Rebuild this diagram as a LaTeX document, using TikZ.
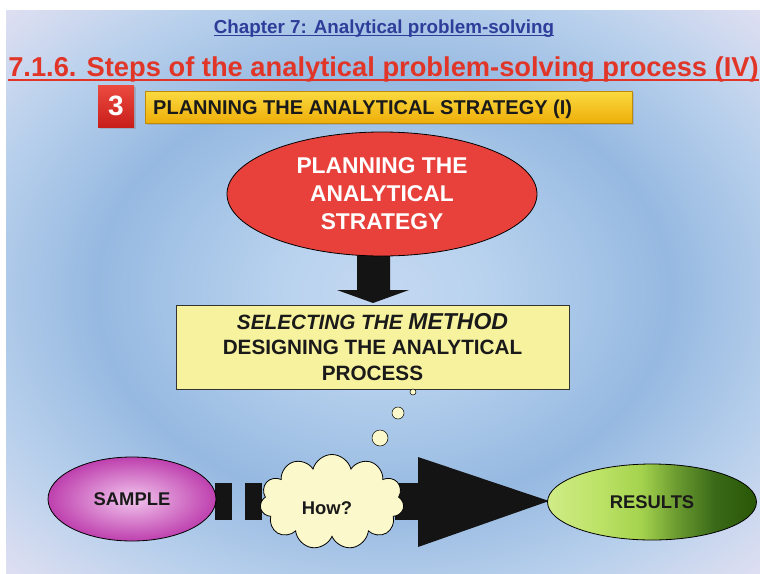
\documentclass[tikz,border=0pt]{standalone}
\usepackage{fontspec}
\setmainfont{Liberation Sans}
\usetikzlibrary{shapes.geometric,shapes.symbols,shadows,calc}
\definecolor{bgA}{HTML}{C4D8F2}
\definecolor{bgB}{HTML}{B8D2EE}
\definecolor{bgC}{HTML}{96B9E1}
\definecolor{bgD}{HTML}{B8D0EC}
\definecolor{bgE}{HTML}{D6DCF0}
\definecolor{bgF}{HTML}{EEE4F6}
\definecolor{bgG}{HTML}{F6E8F6}
\definecolor{resA}{HTML}{D0EC88}
\definecolor{resB}{HTML}{BCE266}
\definecolor{resC}{HTML}{A4D24E}
\definecolor{resD}{HTML}{6A9A30}
\definecolor{resE}{HTML}{3A6A18}
\definecolor{resF}{HTML}{285606}
\definecolor{chapblue}{HTML}{2E3D9A}
\definecolor{titlered}{HTML}{E03527}
\definecolor{sqtop}{HTML}{EC4A40}
\definecolor{sqbot}{HTML}{C81E1A}
\definecolor{bartop}{HTML}{FADA40}
\definecolor{barmid}{HTML}{F7C600}
\definecolor{barbot}{HTML}{EEAE0A}
\definecolor{planred}{HTML}{E8413C}
\definecolor{boxyellow}{HTML}{F7F29E}
\definecolor{bubble}{HTML}{FBF8CC}
\definecolor{arrowblack}{HTML}{141414}
\definecolor{samplein}{HTML}{F2C6EE}
\definecolor{sampleout}{HTML}{BE40AE}
\definecolor{darktext}{HTML}{1A1A1A}
\pgfdeclareradialshading{bgshade}{\pgfpoint{0bp}{0bp}}{color(0bp)=(bgA); color(7bp)=(bgB); color(19bp)=(bgC); color(27.5bp)=(bgD); color(33.5bp)=(bgE); color(39bp)=(bgF); color(46bp)=(bgG); color(50bp)=(bgG)}
\pgfdeclarehorizontalshading{resshade}{100bp}{color(0bp)=(resA); color(25bp)=(resA); color(37.5bp)=(resB); color(47.5bp)=(resC); color(56bp)=(resD); color(65bp)=(resE); color(75bp)=(resF); color(100bp)=(resF)}
\tikzset{
  bubblestyle/.style={circle, draw=black, line width=0.5pt, fill=bubble, inner sep=0pt},
  ovalstyle/.style={ellipse, draw=black, line width=0.8pt, inner sep=0pt, text=darktext, font=\fontsize{18.4}{22}\selectfont\bfseries},
  blk/.style={fill=arrowblack}
}
\begin{document}
\begin{tikzpicture}[x=1pt,y=-1pt]
\useasboundingbox (0,0) rectangle (760,573);
\fill[white] (0,0) rectangle (760,573);
\shade[shading=bgshade] (6,10) rectangle (760,573);

% headings
\node[anchor=base, inner sep=0pt, text=chapblue, font=\fontsize{18.8}{22}\selectfont\bfseries] (chap) at (384,33) {Chapter 7: Analytical problem-solving};
\draw[chapblue, line width=1.3pt] ([yshift=-2.5pt]chap.base west) -- ([yshift=-2.5pt]chap.base east);
\node[anchor=base, inner sep=0pt, text=titlered, font=\fontsize{27.3}{32}\selectfont\bfseries] (title) at (383.5,76) {7.1.6. Steps of the analytical problem-solving process (IV)};
\draw[titlered, line width=2pt] ([yshift=-4pt]title.base west) -- ([yshift=-4pt]title.base east);

% step number and bar
\node[minimum width=36pt, minimum height=42pt, inner sep=0pt, top color=sqtop, bottom color=sqbot,
      drop shadow={shadow xshift=2pt, shadow yshift=-2pt, opacity=0.35},
      text=white, font=\fontsize{28}{30}\selectfont\bfseries] (three) at (116,106) {3};
\node[minimum width=487pt, minimum height=32pt, inner sep=0pt, top color=bartop, middle color=barmid, bottom color=barbot,
      draw=barbot!80!black, line width=0.4pt,
      drop shadow={shadow xshift=1.5pt, shadow yshift=-2pt, opacity=0.3}] (bar) at (388.5,107) {};
\node[anchor=base west, inner sep=0pt, text=darktext, font=\fontsize{20}{24}\selectfont\bfseries] (bartext) at (153,114) {PLANNING THE ANALYTICAL STRATEGY (I)};

% down arrow
\coordinate (dtip) at (373,303);
\fill[blk] (357,240) -- (390,240) -- (390,290) -- (409,290) -- (dtip) -- (337,290) -- (357,290) -- cycle;

% planning ellipse
\node[ellipse, draw=black, line width=0.8pt, fill=planred, minimum width=310pt, minimum height=124pt, inner sep=0pt,
      align=center, text=white, font=\fontsize{22.8}{28}\selectfont\bfseries] (plan) at (382,194) {PLANNING THE\\ANALYTICAL\\STRATEGY};

% method box
\node[draw=black!80, line width=1pt, fill=boxyellow, minimum width=393pt, minimum height=84pt, inner sep=0pt,
      align=center, text=darktext, font=\fontsize{20.7}{25.5}\selectfont\bfseries] (method) at (372.5,347)
      {\textit{SELECTING THE {\fontsize{23}{25.5}\selectfont METHOD}}\\DESIGNING THE ANALYTICAL\\PROCESS};

% thought bubbles
\node[bubblestyle, minimum size=6pt] (b1) at (413,392) {};
\node[bubblestyle, minimum size=12pt] (b2) at (398,413) {};
\node[bubblestyle, minimum size=16pt] (b3) at (380,438) {};

% dashed block arrow
\fill[blk] (215,483) rectangle (232,520);
\fill[blk] (245,483) rectangle (262,520);
\fill[blk] (275,483) rectangle (292,520);
\fill[blk] (305,483) rectangle (322,520);
\fill[blk] (335,483) rectangle (352,520);
\fill[blk] (365,483) rectangle (382,520);
\fill[blk] (395,483) rectangle (419,520);
\coordinate (htip) at (549,501);
\fill[blk] (418,457) -- (htip) -- (418,547) -- cycle;

% ovals
\node[ovalstyle, minimum width=168pt, minimum height=84pt, inner color=samplein, outer color=sampleout] (sample) at (132,499) {SAMPLE};
\node[ovalstyle, minimum width=209pt, minimum height=76pt, shade, shading=resshade] (results) at (652,502) {RESULTS};

% cloud
\node[cloud, cloud puffs=11, aspect=1.5, draw=black, line width=0.8pt, fill=bubble, minimum width=144pt, minimum height=95pt, inner sep=0pt] (cloud) at (332,502) {};
\node[anchor=base, inner sep=0pt, text=darktext, font=\fontsize{18.4}{22}\selectfont\bfseries] (how) at (327,514) {How?};
\end{tikzpicture}
\end{document}
